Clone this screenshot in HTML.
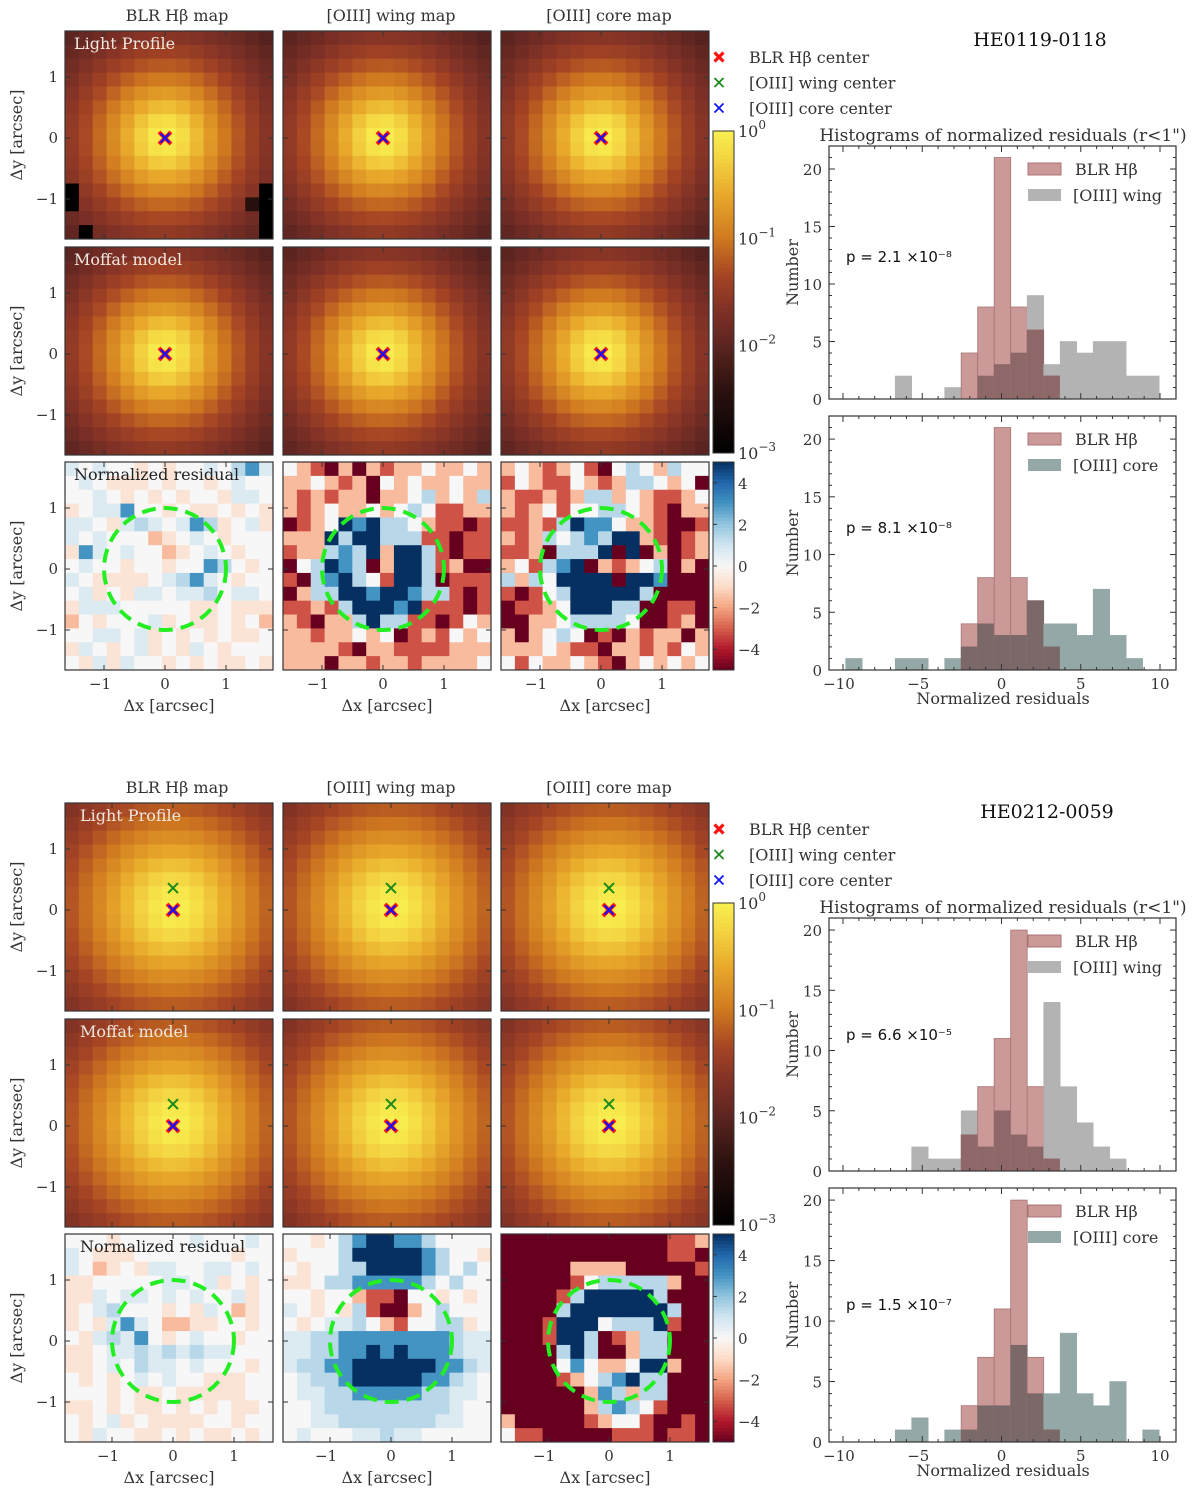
<!DOCTYPE html>
<html><head><meta charset="utf-8"><style>
html,body{margin:0;padding:0;background:#fff}
svg{display:block}
text{font-family:"DejaVu Serif","Liberation Serif",serif;fill:#333}
.sans{font-family:"DejaVu Sans","Liberation Sans",sans-serif}
</style></head><body>
<svg id="fig" width="1200" height="1492" viewBox="0 0 1200 1492" xmlns="http://www.w3.org/2000/svg"></svg>
<script>
// ---- histogram data (counts per bin) ----
const binStart = -9.83;
const binWidth = 1.041;
const histXTicks = [-10, -5, 0, 5, 10];
const histYTicks = [0, 5, 10, 15, 20];
const top_blr_a = [0,0,0,0,0,0,0,4,8,21,8,6,2,0,0,0,0,0,0];
const top_wing  = [0,0,0,2,0,0,1,0,2,3,4,9,3,5,4,5,5,2,2];
const top_blr_b = [0,0,0,0,0,0,0,4,8,21,8,6,2,0,0,0,0,0,0];
const top_core  = [1,0,0,1,1,0,1,2,4,3,3,6,4,4,3,7,3,1,0];
const bot_blr_a = [0,0,0,0,0,0,0,3,7,11,20,7,1,0,0,0,0,0,0];
const bot_wing  = [0,0,0,0,2,1,1,5,2,5,3,2,14,7,4,2,1,0,0];
const bot_blr_b = [0,0,0,0,0,0,0,3,7,11,20,7,1,0,0,0,0,0,0];
const bot_core  = [0,0,0,1,2,0,1,1,3,3,8,4,4,9,4,3,5,0,1];
const pValues = ["p = 2.1 ×10⁻⁸","p = 8.1 ×10⁻⁸","p = 6.6 ×10⁻⁵","p = 1.5 ×10⁻⁷"];
// ---- residual maps (codes: R=-5 r=-3.2 o=-1.5 -=-0.7 .=0 +=0.7 b=1.3 B=3 N=5) ----
const res_top_blr = ["+.+..-.-..+.bB+",".+.---.-..-.+..","..+.-.-.-..-++.","-.++B..-.--.-.-","++.-+b+.+Bb-.+-","+.+...o-.+.-...","-B+.+..o-.+.-..",".+..-..-..Bb.-.","+.----.+bB+.-..",".+-.-++.++b.++.","-+++.....--.---","o.-...+-.--.-.o","..++.+-.-.-.--.","-+.-.+-.-+.-...",".-+-+..-.-.--.-"];
const res_top_wing = [".orRoRoroo.oo.o","oo.oroR.o.oo.oo","ororooRoo.bo.ob","oro.oo.o.b.rroo","Rro.NBNbb.orrRr","oooNbNNbbbrrRrr","roobBbNoNNbrRrr","R.bNBbRoNNbroRR","rRbBNb.rNNbRrrr","RobbNNBNNBbbrRr","rrorbNNNBNrrrRr","orRoobNbbrrRr.o","ooroo.o.Rror.o.","oooorRoorrrrooo","oooRoorooroooo."];
const res_top_core = ["o.oro.rR.b.ob..","r.orr.orobb.o.R","orrorobbo.orro.","oro.r..bb.orRoo","rrorbNBB.oorRRr","orob.bBbNNorRro","rroRbbbNRNRoRro","o.rbBNRoro.bRoR","bob.NNNNRNNBRRR","rRr.bNNNNNbRRRR","Rrro.NNNbbRRrrR","RRoo.bbbb.RRroR","oRo.b.RrRorooRo","ooo.orrRooror.o",".r.oo.orRo.o.o."];
const res_bot_blr = ["...-.....+...+.","+.---.......-..","+.o-.-++..++.+.","--.....++.+-.-.","--+.++.+.+..+-.","-.+b...-.-+.o-.","-.-+B+.oo--..-.",".-+b+B.-.+..-..","--.++b+b+b++...","--.+.b++.+...-.",".-.-.+.+..---..","...-.--.-----..","--.-.--.-.-.--.",".-.+-.----..-..",".-+..--.-.--.-."];
const res_bot_wing = ["..-.bBNNBBb....","-...bNNNNNBb..-",".-..bbNNNNBb.b.","--.bbBBBBBb.b..","..-..orrR..-.-.","+.-.-brRRo.b...",".-.++b.or..bb-.","++bbBBBBBBBBb++","++bbBBNBNBBBb++","+bbBBNNNNNNBBb+",".+bbBNNNNNBBb+.",".++bbBBBBBbb++.","..+bbbbbbbbb+..","..++bbbbbbb++..",".+...++b++....."];
const res_bot_core = ["RRRRRRRRRRRRrro","RRRRRRRRRRRRrrR","RRRRRooooRRRRRr","RRRRRr.bbbbboRR","RRRRrbNNNNNbRRR","RRRRbNNNNNNNbRR","RRRrNNN.bbbNrRR","RRRrNNbRrobbRRR","RRRRbNbRRobbRRR","RRRR.B.oo.NNoRR","RRRRro.bBNbbRRR","RRRRRRoBbobbRRR","RRRRRRobBb.rRRR","oRRRRRro..rRRrR",".rrRRRRRrrrRrrR"];
const codeVal = {R:-5, r:-3.2, o:-1.6, '-':-0.7, '.':0, '+':0.7, b:1.4, B:3, N:5};
// Moffat profile params per section [alpha, beta]
const moffatTop = [0.55, 1.6];
const moffatBot = [0.8, 1.7];
const blackPixTop = [[11,0],[12,0],[14,1],[11,14],[12,14],[13,14],[14,14]];

const svg = document.getElementById('fig');
const NS = 'http://www.w3.org/2000/svg';
function mk(tag, attrs, parent){
  const el = document.createElementNS(NS, tag);
  for (const k in attrs) el.setAttribute(k, attrs[k]);
  (parent||svg).appendChild(el);
  return el;
}
function txt(x,y,s,size,name,opts,parent){
  opts = opts||{};
  const el = mk('text',{x:x,y:y,'font-size':size,'text-anchor':opts.anchor||'start'},parent);
  if (opts.fill) el.setAttribute('fill', opts.fill), el.style.fill = opts.fill;
  if (opts.cls) el.setAttribute('class', opts.cls);
  if (opts.rot) el.setAttribute('transform','rotate(-90 '+x+' '+y+')');
  el.textContent = s;
  
  
  return el;
}
function lerpStops(stops, t){
  t=Math.max(0,Math.min(1,t));
  for(let i=0;i<stops.length-1;i++){
    const a=stops[i], b=stops[i+1];
    if(t<=b[0]){const f=(t-a[0])/(b[0]-a[0]||1);
      return 'rgb('+[1,2,3].map(j=>Math.round(a[j]+(b[j]-a[j])*f)).join(',')+')';}
  }
  const l=stops[stops.length-1]; return 'rgb('+l[1]+','+l[2]+','+l[3]+')';
}
const hotStops=[[0,0,0,0],[0.2,45,18,16],[0.33,90,36,32],[0.45,130,50,38],[0.55,165,68,36],[0.67,208,122,32],[0.8,232,168,42],[0.92,244,214,66],[1,249,240,80]];
const rdbuStops=[[0,103,0,31],[0.1,178,24,43],[0.2,214,96,77],[0.3,244,165,130],[0.4,253,219,199],[0.5,247,247,247],[0.6,209,229,240],[0.7,146,197,222],[0.8,67,147,195],[0.9,33,102,172],[1,5,48,97]];

const colX=[65,283,501], PW=208, N=15, CELL=PW/N, SCALE=61;
const colTitles=["BLR Hβ map","[OIII] wing map","[OIII] core map"];

function section(off, cfg){
  const rowsY=[31+off,247+off,462+off];
  const g = mk('g',{});
  
  
  colX.forEach((cx,ci)=>txt(cx+PW/2+ (ci===0?8:4), 26+off-5, colTitles[ci], 16, 'column-title', {anchor:'middle'}, g));
  for(let ri=0;ri<3;ri++){
    for(let ci=0;ci<3;ci++){
      const px=colX[ci], py=rowsY[ri];
      const pg=mk('g',{},g);
      
      
      const ox = px + cfg.x0off, oy = py + cfg.y0off;
      for(let r=0;r<N;r++) for(let c=0;c<N;c++){
        let fill;
        if(ri<2){
          const xa=(px + (c+0.5)*CELL - ox)/SCALE, ya=(oy-(py+(r+0.5)*CELL))/SCALE;
          const m = cfg.moffat[0];
          const rr=Math.hypot(xa-cfg.cen[0], ya-cfg.cen[1]);
          let v=Math.pow(1+(rr/m[0])*(rr/m[0]),-m[1]);
          let lv=Math.log10(v);
          if(ri===0 && cfg.black && ci===0 && cfg.black.some(p=>p[0]===r&&p[1]===c)) lv=-3;
          if(ri===0 && cfg.black && ci===0 && r===12 && c===13) lv=-2.5;
          fill=lerpStops(hotStops,(lv+3)/3);
        } else {
          const v=codeVal[cfg.res[ci][r][c]];
          fill=lerpStops(rdbuStops,(v+5)/10);
        }
        const cell=mk('rect',{x:(px+c*CELL).toFixed(2),y:(py+r*CELL).toFixed(2),width:(CELL+0.4).toFixed(2),height:(CELL+0.4).toFixed(2),fill:fill},pg);
        
        
      }
      [-1,0,1].forEach(t=>{
        const tx=ox+t*SCALE, ty=oy-t*SCALE;
        mk('line',{x1:tx,y1:py+PW,x2:tx,y2:py+PW-5,stroke:'#333','stroke-width':1},pg);
        mk('line',{x1:tx,y1:py,x2:tx,y2:py+5,stroke:'#333','stroke-width':1},pg);
        mk('line',{x1:px,y1:ty,x2:px+5,y2:ty,stroke:'#333','stroke-width':1},pg);
        mk('line',{x1:px+PW,y1:ty,x2:px+PW-5,y2:ty,stroke:'#333','stroke-width':1},pg);
        if(ci===0) txt(px-7, ty+5, t<0?'−1':String(t), 15, 'y-tick-label', {anchor:'end'}, pg);
        if(ri===2) txt(tx-(t<0?4:0), py+PW+19, t<0?'−1':String(t), 15, 'x-tick-label', {anchor:'middle'}, pg);
      });
      if(ri===2){
        const circ=mk('circle',{cx:ox,cy:oy,r:SCALE,fill:'none',stroke:'#22ee22','stroke-width':4,'stroke-dasharray':'14 8'},pg);
        
        
        txt(px+PW/2, py+PW+41, 'Δx [arcsec]', 16, 'x-axis-title', {anchor:'middle'}, pg);
      } else {
        const mks=[[cfg.green,'#1a8a1a',2,5],[cfg.red,'#ff1111',4,6],[cfg.blue,'#1111ff',2,4.5]];
        mks.forEach(mm=>{
          const mx=ox+mm[0][0]*SCALE, my=oy-mm[0][1]*SCALE, s=mm[3];
          const mg=mk('g',{stroke:mm[1],'stroke-width':mm[2]},pg);
          
          
          mk('line',{x1:mx-s,y1:my-s,x2:mx+s,y2:my+s},mg);
          mk('line',{x1:mx-s,y1:my+s,x2:mx+s,y2:my-s},mg);
        });
      }
      mk('rect',{x:px,y:py,width:PW,height:PW,fill:'none',stroke:'#333','stroke-width':1.2},pg);
      if(ci===0){
        txt(22, py+PW/2, 'Δy [arcsec]', 16, 'y-axis-title', {anchor:'middle',rot:true}, pg);
        const lab=['Light Profile','Moffat model','Normalized residual'][ri];
        txt(px+cfg.labX, py+18, lab, 16, 'panel-label', {fill: ri<2?'#f0e8e0':'#222'}, pg);
      }
    }
  }
  const cb=mk('g',{},g);
  
  
  const cbTop=131+off, cbBot=453+off;
  for(let i=0;i<80;i++){
    const y=cbTop+(cbBot-cbTop)*i/80;
    mk('rect',{x:713,y:y,width:21,height:(cbBot-cbTop)/80+0.5,fill:lerpStops(hotStops,1-(i+0.5)/80)},cb);
  }
  mk('rect',{x:713,y:cbTop,width:21,height:cbBot-cbTop,fill:'none',stroke:'#333','stroke-width':1},cb);
  [0,-1,-2,-3].forEach((e,i)=>{
    const y=cbTop+(cbBot-cbTop)*i/3;
    const t=txt(738,y+6,'10',16,'colorbar-tick-label',{},cb);
    const sp=mk('tspan',{dy:-8,'font-size':12},t); sp.textContent=e===0?'0':'−'+(-e);
  });
  const rb=mk('g',{},g);
  
  
  const rTop=462+off, rBot=670+off;
  for(let i=0;i<60;i++){
    const y=rTop+(rBot-rTop)*i/60;
    mk('rect',{x:713,y:y,width:21,height:(rBot-rTop)/60+0.5,fill:lerpStops(rdbuStops,1-(i+0.5)/60)},rb);
  }
  mk('rect',{x:713,y:rTop,width:21,height:rBot-rTop,fill:'none',stroke:'#333','stroke-width':1},rb);
  [4,2,0,-2,-4].forEach(v=>{
    const y=(rTop+rBot)/2 - v*(rBot-rTop)/10;
    mk('line',{x1:713,y1:y,x2:717,y2:y,stroke:'#333'},rb);
    txt(738,y+6,v<0?'−'+(-v):String(v),15,'colorbar-tick-label',{},rb);
  });
  const lg=mk('g',{},g);
  
  
  [['BLR Hβ center','#ff1111',3.2],['[OIII] wing center','#1a8a1a',1.8],['[OIII] core center','#1111ff',1.8]].forEach((L,i)=>{
    const y=cfg.legY+off+i*25.5, x=719, s=4.5;
    mk('line',{x1:x-s,y1:y-s,x2:x+s,y2:y+s,stroke:L[1],'stroke-width':L[2]},lg);
    mk('line',{x1:x-s,y1:y+s,x2:x+s,y2:y-s,stroke:L[1],'stroke-width':L[2]},lg);
    txt(749,y+6,L[0],16,'legend-entry',{},lg);
  });
  txt(cfg.nameX, 46+off, cfg.objName, 19, 'object-name', {anchor:'middle',fill:'#111'}, g);
  txt(1003, 141+off, 'Histograms of normalized residuals (r<1")', 17, 'histogram-title', {anchor:'middle'}, g);
  hist(cfg.h1, cfg.blrA, cfg.oA, '#b3b3b3', '#8e6868', '[OIII] wing', cfg.p1, false, g);
  hist(cfg.h2, cfg.blrB, cfg.oB, '#95a8a8', '#7b6868', '[OIII] core', cfg.p2, true, g);
}

function hist(ax, blr, oth, col, ovCol, lab, ptxt, showX, parent){
  const g=mk('g',{},parent);
  
  
  const X0=829, X1=1176;
  const xs=v=>843+(v+10)*15.85;
  const ys=v=>ax.base-(ax.base-ax.top)*v/ax.ymax;
  for(let k=0;k<blr.length;k++){
    const xa=xs(binStart+k*binWidth), xb=xs(binStart+(k+1)*binWidth);
    const b=blr[k], o=oth[k], m=Math.min(b,o);
    if(o>0){const r=mk('rect',{x:xa,y:ys(o),width:xb-xa,height:ys(0)-ys(o),fill:col,stroke:col,'stroke-width':0.6},g);
      
      }
    if(b>0){const r=mk('rect',{x:xa,y:ys(b),width:xb-xa,height:ys(0)-ys(b),fill:'#cc9999',stroke:'#a87474','stroke-width':0.8},g);
      
      }
    if(m>0){const r=mk('rect',{x:xa,y:ys(m),width:xb-xa,height:ys(0)-ys(m),fill:ovCol,stroke:ovCol,'stroke-width':0.6},g);
      
      }
  }
  mk('rect',{x:X0,y:ax.top,width:X1-X0,height:ax.base-ax.top,fill:'none',stroke:'#333','stroke-width':1.2},g);
  for(let v=-10;v<=10;v++){
    const x=xs(v), L=(v%5===0)?6:3;
    mk('line',{x1:x,y1:ax.base,x2:x,y2:ax.base-L,stroke:'#333'},g);
    mk('line',{x1:x,y1:ax.top,x2:x,y2:ax.top+L,stroke:'#333'},g);
  }
  for(let v=0;v<=ax.ymax;v++){
    const y=ys(v), L=(v%5===0)?6:3;
    mk('line',{x1:X0,y1:y,x2:X0+L,y2:y,stroke:'#333'},g);
    mk('line',{x1:X1,y1:y,x2:X1-L,y2:y,stroke:'#333'},g);
  }
  histYTicks.forEach(v=>txt(822,ys(v)+6,String(v),15,'y-tick-label',{anchor:'end'},g));
  if(showX){
    histXTicks.forEach(v=>txt(xs(v)-(v<0?4:0),ax.base+19,v<0?'−'+(-v):String(v),15,'x-tick-label',{anchor:'middle'},g));
    txt(1003,ax.base+34,'Normalized residuals',16,'x-axis-title',{anchor:'middle'},g);
  }
  txt(798,(ax.top+ax.base)/2,'Number',16,'y-axis-title',{anchor:'middle',rot:true},g);
  const ly=ax.top+17;
  mk('rect',{x:1028,y:ly,width:33,height:12,fill:'#cc9999',stroke:'#a87474'},g);
  txt(1075,ly+12,'BLR Hβ',16,'legend-entry',{},g);
  mk('rect',{x:1028,y:ly+26,width:33,height:12,fill:col},g);
  txt(1073,ly+38,lab,16,'legend-entry',{},g);
  txt(846,ax.p,ptxt,15,'p-value',{cls:'sans',fill:'#111'},g);
}

section(0,{secName:'he0119-section',x0off:100,y0off:107,cen:[0,0],moffat:[moffatTop],black:blackPixTop,
  res:[res_top_blr,res_top_wing,res_top_core],red:[0,0],green:[0,0],blue:[0,0],labX:9,legY:57,
  objName:'HE0119-0118',nameX:1040,
  h1:{top:146,base:399,ymax:22,p:262},h2:{top:416,base:670,ymax:22,p:533},
  blrA:top_blr_a,oA:top_wing,blrB:top_blr_b,oB:top_core,p1:pValues[0],p2:pValues[1]});
section(772,{secName:'he0212-section',x0off:108,y0off:107,cen:[0,0.05],moffat:[moffatBot],black:null,
  res:[res_bot_blr,res_bot_wing,res_bot_core],red:[0,0],green:[0,0.36],blue:[0,0],labX:15,legY:57,
  objName:'HE0212-0059',nameX:1047,
  h1:{top:918,base:1171,ymax:21,p:1040},h2:{top:1188,base:1442,ymax:21,p:1310},
  blrA:bot_blr_a,oA:bot_wing,blrB:bot_blr_b,oB:bot_core,p1:pValues[2],p2:pValues[3]});
</script>
</body></html>
